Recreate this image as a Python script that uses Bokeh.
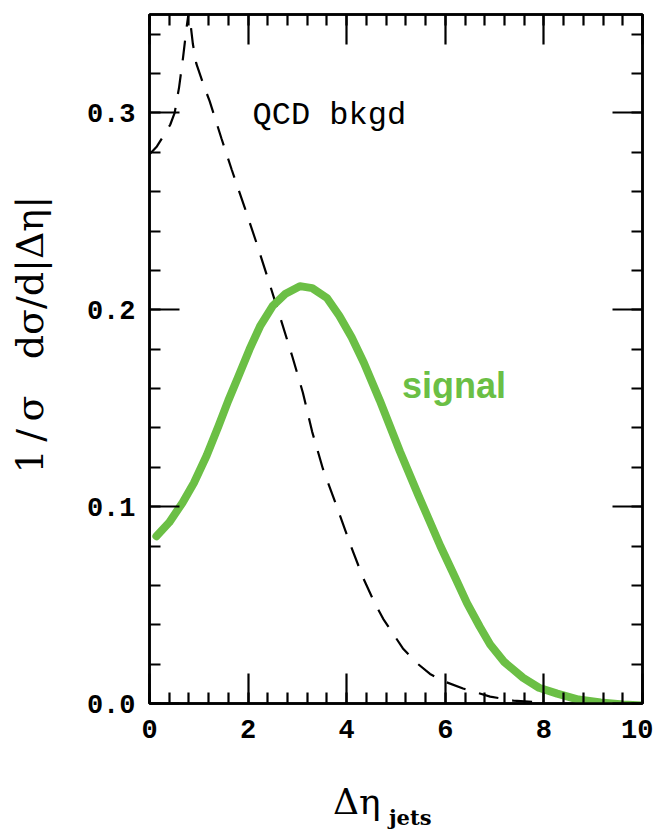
from bokeh.plotting import figure
from bokeh.models import Range1d, LinearAxis, FixedTicker, Label, Div
from bokeh.layouts import column
from bokeh.embed import file_html
from bokeh.resources import INLINE

# ---- data ----
signal_x = [0.14, 0.4, 0.67, 0.9, 1.16, 1.4, 1.6, 1.8, 2.03, 2.25, 2.5, 2.75, 3.05, 3.3,
            3.6, 3.85, 4.1, 4.35, 4.67, 5.08, 5.45, 5.9, 6.2, 6.44, 6.7, 6.91, 7.2, 7.58,
            7.9, 8.27, 8.7, 9.15, 9.6, 10.0]
signal_y = [0.085, 0.092, 0.102, 0.112, 0.126, 0.141, 0.154, 0.166, 0.180, 0.192, 0.202,
            0.208, 0.212, 0.211, 0.206, 0.197, 0.186, 0.173, 0.154, 0.128, 0.106, 0.080,
            0.064, 0.051, 0.039, 0.030, 0.021, 0.013, 0.008, 0.005, 0.002, 0.0005, -0.0005,
            -0.001]

qcd_x = [0.0, 0.15, 0.3, 0.42, 0.51, 0.6, 0.68, 0.75, 0.8, 0.88, 0.95, 1.1, 1.22, 1.46,
         1.67, 1.93, 2.17, 2.4, 2.64, 2.9, 3.11, 3.3, 3.52, 3.8, 4.07, 4.33, 4.55, 4.74,
         5.14, 5.4, 5.69, 6.0, 6.36, 6.91, 7.38, 7.8]
qcd_y = [0.279, 0.283, 0.289, 0.294, 0.300, 0.313, 0.328, 0.343, 0.352, 0.335, 0.325,
         0.314, 0.306, 0.287, 0.271, 0.252, 0.234, 0.216, 0.197, 0.176, 0.158, 0.138,
         0.119, 0.100, 0.081, 0.064, 0.052, 0.043, 0.028, 0.021, 0.015, 0.011, 0.0076,
         0.0035, 0.0015, 0.0008]

x_ticks = [0, 2, 4, 6, 8, 10]
x_tick_labels = ["0", "2", "4", "6", "8", "10"]
x_minor = [0.4 * i for i in range(26)]
y_ticks = [0.0, 0.1, 0.2, 0.3]
y_tick_labels = ["0.0", "0.1", "0.2", "0.3"]
y_minor = [0.02 * i for i in range(18)]

NB = "\u00a0"
TH = "\u2009"
y_title = NB * 4 + "1" + TH + "/" + TH + "σ" + NB * 3 + "dσ/d|Δη|"
x_title_main = "Δη"
x_title_sub = "jets"

GREEN = "#6bbf45"
TICK_FONT = "Liberation Mono"

p = figure(width=653, height=775, x_range=Range1d(0, 10), y_range=Range1d(0, 0.35),
           output_backend="svg", toolbar_location=None,
           min_border_left=149, min_border_right=11, min_border_top=14, min_border_bottom=72,
           background_fill_color="white", border_fill_color="white")
p.xgrid.visible = False
p.ygrid.visible = False
p.outline_line_color = "black"
p.outline_line_width = 2.5


def style_axis(ax, ticks, minor, labels, show_labels, standoff):
    ax.ticker = FixedTicker(ticks=ticks, minor_ticks=minor)
    ax.major_tick_in = 30
    ax.major_tick_out = 0
    ax.minor_tick_in = 11
    ax.minor_tick_out = 0
    ax.major_tick_line_width = 2.2
    ax.minor_tick_line_width = 2.2
    ax.major_tick_line_color = "black"
    ax.minor_tick_line_color = "black"
    ax.axis_line_width = 2.5
    ax.axis_line_color = "black"
    if show_labels:
        ax.major_label_overrides = {t: l for t, l in zip(ticks, labels)}
        ax.major_label_text_font = TICK_FONT
        ax.major_label_text_font_style = "bold"
        ax.major_label_text_font_size = "27px"
        ax.major_label_text_color = "black"
        ax.major_label_standoff = standoff
    else:
        ax.major_label_text_color = None
        ax.major_label_text_alpha = 0
        ax.major_label_text_font_size = "1px"
        ax.major_label_standoff = 0


style_axis(p.xaxis[0], x_ticks, x_minor, x_tick_labels, True, 16)
style_axis(p.yaxis[0], y_ticks, y_minor, y_tick_labels, True, 14)

p.yaxis[0].axis_label = y_title
p.yaxis[0].axis_label_text_font = "DejaVu Serif"
p.yaxis[0].axis_label_text_font_style = "normal"
p.yaxis[0].axis_label_text_font_size = "38px"
p.yaxis[0].axis_label_text_color = "black"
p.yaxis[0].axis_label_standoff = 32

top = LinearAxis()
style_axis(top, x_ticks, x_minor, x_tick_labels, False, 0)
p.add_layout(top, "above")
right = LinearAxis()
style_axis(right, y_ticks, y_minor, y_tick_labels, False, 0)
p.add_layout(right, "right")

# curves
p.line(qcd_x, qcd_y, line_color="black", line_width=2.2, line_dash="20 14")
p.line(signal_x, signal_y, line_color=GREEN, line_width=8, line_cap="round", line_join="round")

# in-plot texts
p.add_layout(Label(x=2.09, y=0.2985, text="QCD bkgd", text_font=TICK_FONT,
                   text_font_size="32px", text_color="black", text_baseline="alphabetic"))
p.add_layout(Label(x=5.12, y=0.1614, text="signal", text_font="Liberation Sans",
                   text_font_style="bold", text_font_size="36px", text_color=GREEN,
                   text_baseline="alphabetic"))

xtitle = Div(
    text=(
        '<div style="position:relative;width:653px;height:57px;'
        'font-family:\'DejaVu Serif\';color:black;">'
        '<span style="position:absolute;left:333px;top:9px;font-size:36px;line-height:1;">'
        + x_title_main + '</span>'
        '<span style="position:absolute;left:389px;top:32px;font-size:21px;'
        'font-weight:bold;line-height:1;">' + x_title_sub + '</span></div>'
    ),
    width=653, height=57, margin=(0, 0, 0, 0),
)

layout = column(p, xtitle, spacing=0, margin=(0, 0, 0, 0))

open("out.html", "w").write(file_html(layout, INLINE))
